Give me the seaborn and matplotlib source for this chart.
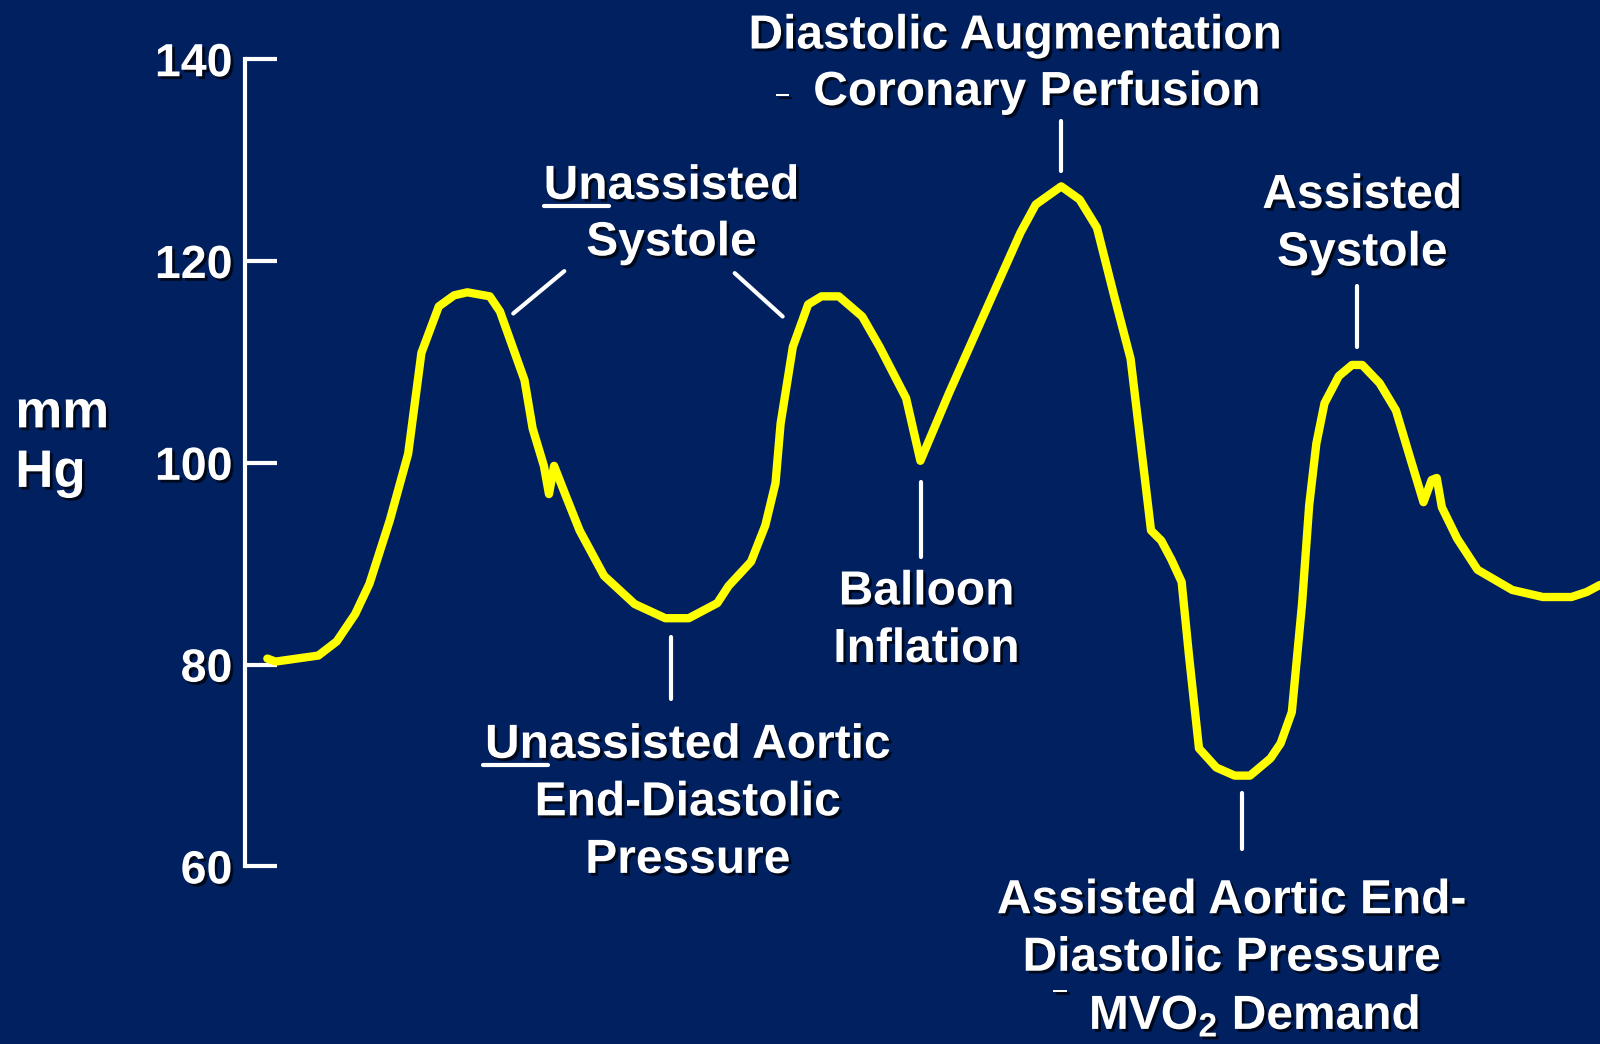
import matplotlib
matplotlib.use("Agg")
import matplotlib.pyplot as plt
import matplotlib.patheffects as pe
import seaborn as sns
import numpy as np

# Aortic pressure trace (time in arbitrary units, pressure in mmHg)
time = [262, 270, 312, 330, 348, 362, 382, 400, 413, 430, 445, 458, 480, 490,
        514, 522, 533, 538, 543, 555, 568, 592, 622, 652, 675, 703, 714, 736,
        750, 760, 765, 777, 792, 805, 822, 845, 862, 888, 902, 930, 970, 1000,
        1015, 1040, 1058, 1075, 1092, 1108, 1128, 1138, 1148, 1158, 1165, 1175,
        1192, 1210, 1225, 1245, 1255, 1266, 1276, 1283, 1290, 1298, 1312, 1325,
        1335, 1352, 1368, 1384, 1395, 1403, 1408, 1413, 1428, 1448, 1482, 1512,
        1540, 1555, 1568]
pressure = [80.6, 80.3, 80.9, 82.3, 85.0, 88.0, 94.3, 100.9, 110.9, 115.5, 116.6,
            116.9, 116.5, 115.0, 108.2, 103.4, 99.7, 96.9, 99.7, 96.6, 93.3, 88.8,
            86.0, 84.6, 84.6, 86.1, 87.8, 90.2, 93.8, 98.0, 103.9, 111.5, 115.7,
            116.5, 116.5, 114.5, 111.5, 106.4, 100.2, 106.9, 116.0, 122.8, 125.6,
            127.4, 126.1, 123.3, 116.5, 110.3, 93.3, 92.3, 90.4, 88.2, 81.1, 71.7,
            69.8, 69.0, 69.0, 70.7, 72.2, 75.3, 86.0, 95.8, 101.9, 105.9, 108.6,
            109.7, 109.7, 107.9, 105.2, 99.8, 96.1, 98.3, 98.5, 95.6, 92.5, 89.4,
            87.4, 86.7, 86.7, 87.2, 87.9]

yticks = [60, 80, 100, 120, 140]

# annotation text: (x center, pressure of each line, lines)
labels = [
    (995, [142.3], ["Diastolic Augmentation"]),
    (1016, [136.7], ["Coronary Perfusion"]),
    (658, [127.4, 121.8], ["Unassisted", "Systole"]),
    (1335, [126.5, 120.8], ["Assisted", "Systole"]),
    (908, [87.2, 81.5], ["Balloon", "Inflation"]),
    (674, [72.0, 66.3, 60.6], ["Unassisted Aortic", "End-Diastolic", "Pressure"]),
    (1207, [56.6, 50.9], ["Assisted Aortic End-", "Diastolic Pressure"]),
    (1229, [45.2], ["MVO$_2$ Demand"]),
]
# small dashes standing in for the arrows of the original slide
dashes = [(767, 136.4), (1039, 47.6)]
pointers = [((503, 553), (114.8, 119.0)), ((720, 767), (118.8, 114.5)),
            ((1040, 1040), (133.9, 128.9)), ((1330, 1330), (117.5, 111.5)),
            ((658, 658), (82.7, 76.6)), ((903, 903), (98.1, 90.7)),
            ((1217, 1217), (67.3, 61.7))]
underlines = [((533, 597), 125.5), ((473, 537), 70.1)]

bg = "#002060"
sns.set_theme(style="white")
plt.rcParams["font.family"] = ["Liberation Sans", "DejaVu Sans"]
plt.rcParams["font.weight"] = "bold"
plt.rcParams["mathtext.fontset"] = "custom"
plt.rcParams["mathtext.rm"] = "Liberation Sans:bold"
plt.rcParams["mathtext.it"] = "Liberation Sans:bold"
plt.rcParams["mathtext.bf"] = "Liberation Sans:bold"

fig = plt.figure(figsize=(16, 10.44), dpi=100, facecolor=bg)
ax = fig.add_axes([0, 0, 1, 1])
ax.set_facecolor(bg)
ax.set_xlim(0, 1568)
ax.set_ylim(42.4, 145.87)

shadow = [pe.withSimplePatchShadow(offset=(2, -2), shadow_rgbFace="black", alpha=0.7)]

sns.lineplot(x=time, y=pressure, ax=ax, color="#FFFF00", linewidth=6,
             sort=False, estimator=None)
ax.lines[-1].set_solid_joinstyle("round")
ax.lines[-1].set_solid_capstyle("round")

for s in ["top", "right", "bottom"]:
    ax.spines[s].set_visible(False)
ax.spines["left"].set_position(("data", 240))
ax.spines["left"].set_bounds(60, 140)
ax.spines["left"].set_color("white")
ax.spines["left"].set_linewidth(3)
ax.set_xticks([])
ax.set_yticks(yticks)
ax.tick_params(axis="y", direction="in", length=23, width=3, color="white",
               labelcolor="white", labelsize=33.5, pad=9, left=True)
for t in ax.get_yticklabels():
    t.set_fontweight("bold")
    t.set_path_effects(shadow)

for y, s in zip([104.9, 99.0], ["mm", "Hg"]):
    ax.text(15, y, s, color="white", fontsize=38, fontweight="bold",
            ha="left", va="center", path_effects=shadow)

for x, ys, lines in labels:
    for y, s in zip(ys, lines):
        ax.text(x, y, s, color="white", fontsize=34.5, fontweight="bold",
                ha="center", va="center", path_effects=shadow)

for x, y in dashes:
    ax.text(x, y, "\u2013", color="white", fontsize=20, fontweight="bold",
            ha="center", va="center", path_effects=shadow)

for xs, ys in pointers:
    ax.plot(xs, ys, color="white", linewidth=3)
for xs, y in underlines:
    ax.plot(xs, [y, y], color="white", linewidth=3)

fig.savefig("out.png", dpi=100, facecolor=bg)
